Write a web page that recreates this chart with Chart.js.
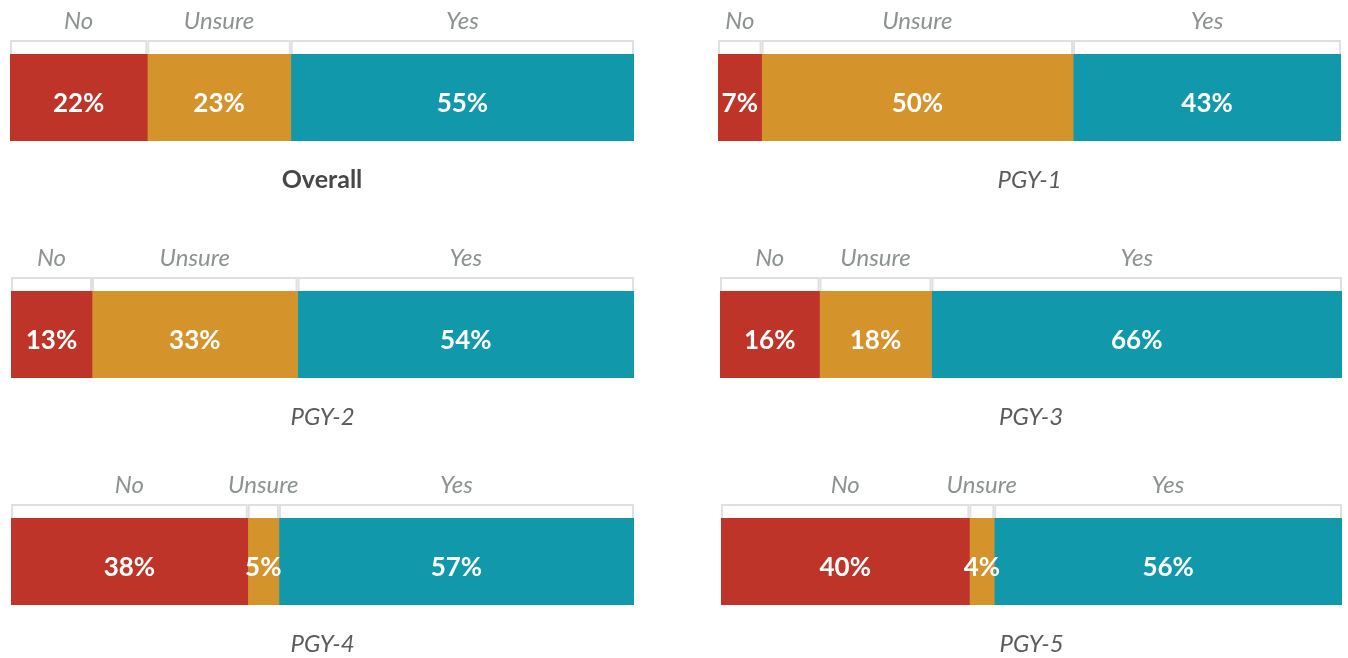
<!DOCTYPE html>
<html>
<head>
<meta charset="utf-8">
<script src="https://cdn.jsdelivr.net/npm/chart.js@4/dist/chart.umd.min.js"></script>
<style>
  body { margin: 0; background: #fff; width: 1348px; height: 658px; position: relative; overflow: hidden; }
  canvas { position: absolute; }
</style>
</head>
<body>
<script>
// chart values
const panels = ['Overall', 'PGY-1', 'PGY-2', 'PGY-3', 'PGY-4', 'PGY-5'];
const answers = ['No', 'Unsure', 'Yes'];
const noValues = [22, 7, 13, 16, 38, 40];
const unsureValues = [23, 50, 33, 18, 5, 4];
const yesValues = [55, 43, 54, 66, 57, 56];

const colors = ['#BE3428', '#D4932B', '#1199AB'];

// where each bar sits on the page: left, top, right, bottom
const barBoxes = [
    [10, 54, 634, 141], [718, 54, 1341, 141],
    [11, 291, 634, 378], [720, 291, 1342, 378],
    [11, 518, 634, 605], [721, 518, 1342, 605]
];
const rowTops = [0, 226, 453];
const panelW = 674, panelH = 205;

const annotate = {
    id: 'annotate',
    afterDatasetsDraw(chart, args, opts) {
        const ctx = chart.ctx;
        const area = chart.chartArea;
        ctx.save();
        ctx.textAlign = 'center';
        ctx.textBaseline = 'alphabetic';
        chart.data.datasets.forEach((ds, d) => {
            const bar = chart.getDatasetMeta(d).data[0];
            const left = Math.min(bar.base, bar.x);
            const right = Math.max(bar.base, bar.x);
            const mid = (left + right) / 2;

            ctx.strokeStyle = '#e0e0e0';
            ctx.lineWidth = 2;
            ctx.beginPath();
            ctx.moveTo(left + 1, area.top);
            ctx.lineTo(left + 1, area.top - 13);
            ctx.lineTo(right - 1, area.top - 13);
            ctx.lineTo(right - 1, area.top);
            ctx.stroke();

            ctx.fillStyle = '#8d9392';
            ctx.font = 'italic 400 24px Lato';
            ctx.fillText(ds.label, mid, area.top - 25);

            ctx.fillStyle = '#ffffff';
            ctx.font = 'bold 26px Lato';
            ctx.fillText(ds.data[0] + '%', mid, area.top + 58);
        });
        const cx = (area.left + area.right) / 2;
        if (opts.bold) {
            ctx.fillStyle = '#474747';
            ctx.font = 'bold 25px Lato';
        } else {
            ctx.fillStyle = '#5c5c5c';
            ctx.font = 'italic 400 24px Lato';
        }
        ctx.fillText(opts.title, cx, area.bottom + 47);
        ctx.restore();
    }
};

panels.forEach((name, i) => {
    const col = i % 2, row = Math.floor(i / 2);
    const x0 = col * panelW, y0 = rowTops[row];
    const box = barBoxes[i];

    const canvas = document.createElement('canvas');
    canvas.width = panelW;
    canvas.height = panelH;
    canvas.style.left = x0 + 'px';
    canvas.style.top = y0 + 'px';
    document.body.appendChild(canvas);

    const values = [noValues[i], unsureValues[i], yesValues[i]];

    new Chart(canvas.getContext('2d'), {
        type: 'bar',
        data: {
            labels: [name],
            datasets: answers.map((a, k) => ({
                label: a,
                data: [values[k]],
                backgroundColor: colors[k],
                borderWidth: 0,
                barPercentage: 1,
                categoryPercentage: 1
            }))
        },
        options: {
            indexAxis: 'y',
            responsive: false,
            animation: false,
            devicePixelRatio: 1,
            layout: {
                padding: {
                    left: box[0] - x0,
                    right: x0 + panelW - box[2],
                    top: box[1] - y0,
                    bottom: y0 + panelH - box[3]
                }
            },
            scales: {
                x: { stacked: true, min: 0, max: 100, display: false },
                y: { stacked: true, display: false }
            },
            plugins: {
                legend: { display: false },
                tooltip: { enabled: false },
                annotate: { title: name, bold: i === 0 }
            }
        },
        plugins: [annotate]
    });
});
</script>
</body>
</html>
